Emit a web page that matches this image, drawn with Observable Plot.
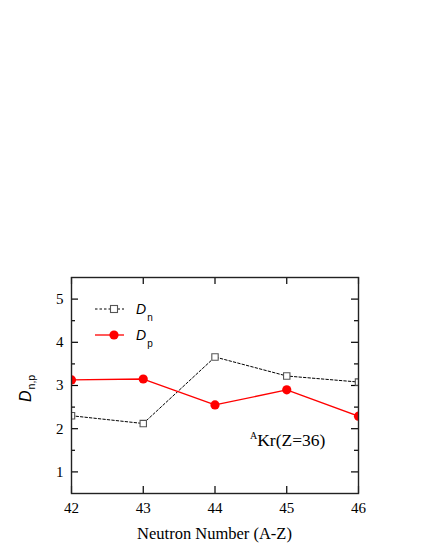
<!DOCTYPE html>
<html>
<head>
<meta charset="utf-8">
<script src="https://cdn.jsdelivr.net/npm/d3@7"></script>
<script src="https://cdn.jsdelivr.net/npm/@observablehq/plot@0.6"></script>
<style>
  html, body { margin: 0; padding: 0; background: white; }
</style>
</head>
<body>
<div id="chart"></div>
<script>
const neutronNumbers = [42, 43, 44, 45, 46];
const dnValues = [2.30, 2.12, 3.66, 3.22, 3.08];
const dpValues = [3.13, 3.15, 2.55, 2.90, 2.29];
const xTicks = [42, 43, 44, 45, 46];
const yTicks = [1, 2, 3, 4, 5];
const yMinorTicks = [1.5, 2.5, 3.5, 4.5];

const dnData = neutronNumbers.map((n, i) => ({n, v: dnValues[i]}));
const dpData = neutronNumbers.map((n, i) => ({n, v: dpValues[i]}));

const W = 425, H = 550;
const mL = 71, mR = 67, mT = 277, mB = 57;
const pw = W - mL - mR, ph = H - mT - mB;
const major = 7, minor = 4;

const serif = "'Liberation Serif', 'Times New Roman', serif";
const sans = "'Liberation Sans', Arial, sans-serif";

const svg = Plot.plot({
  width: W, height: H,
  marginLeft: mL, marginRight: mR, marginTop: mT, marginBottom: mB,
  x: {domain: [42, 46]},
  y: {domain: [0.5, 5.5]},
  style: {fontFamily: serif, fontSize: "15px", background: "white", color: "black"},
  marks: [
    // tick marks (inward) on all four sides
    Plot.tickY(yTicks, {y: d => d, insetRight: pw - major, stroke: "black", strokeWidth: 1.2}),
    Plot.tickY(yMinorTicks, {y: d => d, insetRight: pw - minor, stroke: "black", strokeWidth: 1.2}),
    Plot.tickY(yTicks, {y: d => d, insetLeft: pw - major, stroke: "black", strokeWidth: 1.2}),
    Plot.tickY(yMinorTicks, {y: d => d, insetLeft: pw - minor, stroke: "black", strokeWidth: 1.2}),
    Plot.tickX(xTicks, {x: d => d, insetTop: ph - major, stroke: "black", strokeWidth: 1.2}),
    Plot.tickX(xTicks, {x: d => d, insetBottom: ph - major, stroke: "black", strokeWidth: 1.2}),
    Plot.axisX(xTicks, {anchor: "bottom", tickSize: 0, tickPadding: 9, fontSize: 15, label: null}),
    Plot.axisY(yTicks, {anchor: "left", tickSize: 0, tickPadding: 8, fontSize: 15, label: null}),
    // data
    Plot.line(dnData, {x: "n", y: "v", stroke: "black", strokeWidth: 1, strokeDasharray: "2.5,2", clip: true}),
    Plot.line(dpData, {x: "n", y: "v", stroke: "#ff0000", strokeWidth: 1.3, clip: true}),
    Plot.dot(dnData, {x: "n", y: "v", symbol: "square", r: 3.6, stroke: "#555", strokeWidth: 1.1, fill: "white", clip: true}),
    Plot.dot(dpData, {x: "n", y: "v", symbol: "circle", r: 4.6, fill: "#ff0000", stroke: "none", clip: true}),
    Plot.frame({stroke: "#222", strokeWidth: 1.4})
  ]
});

const s = d3.select(svg);

// Legend
const legend = s.append("g");
function legendRow(y, dashed, symbol, sub) {
  legend.append("line").attr("x1", 95).attr("x2", 124).attr("y1", y).attr("y2", y)
    .attr("stroke", dashed ? "black" : "#ff0000")
    .attr("stroke-width", dashed ? 1 : 1.3)
    .attr("stroke-dasharray", dashed ? "2.5,2" : null);
  if (symbol === "square") {
    legend.append("rect").attr("x", 110.5).attr("y", y - 3.5).attr("width", 7).attr("height", 7)
      .attr("fill", "white").attr("stroke", "#555").attr("stroke-width", 1.1);
  } else {
    legend.append("circle").attr("cx", 114).attr("cy", y).attr("r", 4.6).attr("fill", "#ff0000");
  }
  const t = legend.append("text").attr("x", 136).attr("y", y + 5)
    .attr("text-anchor", "start")
    .attr("font-family", sans).attr("font-size", 14);
  t.append("tspan").attr("font-style", "italic").text("D");
  t.append("tspan").attr("font-size", 10).attr("dy", 7).attr("dx", 1).text(sub);
}
legendRow(309, true, "square", "n");
legendRow(335, false, "circle", "p");

// Annotation
const ann = s.append("text").attr("x", 250).attr("y", 446)
  .attr("text-anchor", "start")
  .attr("font-family", serif).attr("font-size", 17.5);
ann.append("tspan").attr("font-size", 10).attr("dy", -7).text("A");
ann.append("tspan").attr("dy", 7).text("Kr(Z=36)");

// X axis title
s.append("text").attr("x", (mL + W - mR) / 2).attr("y", 539)
  .attr("text-anchor", "middle").attr("font-family", serif).attr("font-size", 16.5)
  .text("Neutron Number (A-Z)");

// Y axis title
const yl = s.append("text").attr("transform", "translate(31,402) rotate(-90)")
  .attr("text-anchor", "start")
  .attr("font-family", sans).attr("font-size", 16);
yl.append("tspan").attr("font-style", "italic").text("D");
yl.append("tspan").attr("font-size", 10.5).attr("dy", 4).attr("dx", 1).text("n,p");

document.getElementById("chart").appendChild(svg);
</script>
</body>
</html>
